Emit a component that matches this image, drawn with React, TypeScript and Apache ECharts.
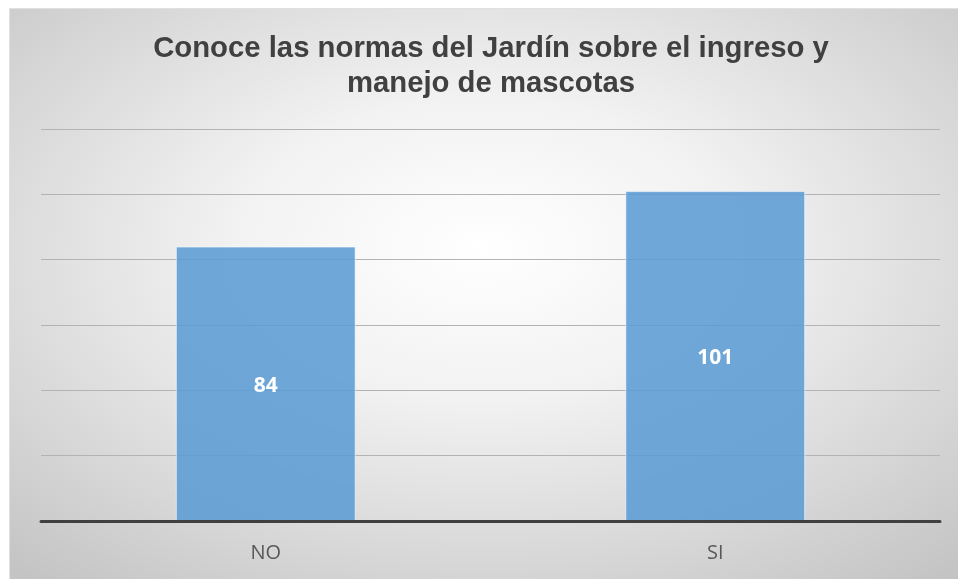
import React, { useEffect, useRef } from "react";
import * as echarts from "echarts";

const categories = ["NO", "SI"];
const values = [84, 101];
const titleLines = ["Conoce las normas del Jardín sobre el ingreso y", "manejo de mascotas"];

export default function App() {
  const ref = useRef<HTMLDivElement>(null);
  useEffect(() => {
    if (!ref.current) return;
    const chart = echarts.init(ref.current, undefined, { renderer: "svg" });
    chart.setOption({
      animation: false,
      backgroundColor: "transparent",
      graphic: [
        {
          type: "text",
          x: 481,
          y: 20,
          style: {
            text: titleLines.join("\n"),
            align: "center",
            verticalAlign: "top",
            font: "bold 29.3px 'Liberation Sans', Arial, sans-serif",
            fill: "#404040",
            lineHeight: 35,
          },
        },
      ],
      grid: { left: 31, right: 18, top: 120, bottom: 58, containLabel: false },
      xAxis: {
        type: "category",
        data: categories,
        axisLine: { show: true, lineStyle: { color: "#404040", width: 3 } },
        axisTick: { show: false },
        axisLabel: {
          color: "#595959",
          fontSize: 20,
          fontFamily: "Open Sans, sans-serif",
          margin: 20,
        },
        z: 5,
      },
      yAxis: {
        type: "value",
        min: 0,
        max: 120,
        interval: 20,
        axisLabel: { show: false },
        axisLine: { show: false },
        axisTick: { show: false },
        splitLine: { lineStyle: { color: "#b3b3b3", width: 1 } },
      },
      series: [
        {
          type: "bar",
          data: values,
          barCategoryGap: "60%",
          itemStyle: {
            color: "rgba(91,155,213,0.87)",
            borderColor: "rgba(255,255,255,0.55)",
            borderWidth: 1,
          },
          label: {
            show: true,
            position: "inside",
            color: "#ffffff",
            fontWeight: "bold",
            fontSize: 21,
            fontFamily: "Open Sans, sans-serif",
          },
        },
      ],
    });
    return () => chart.dispose();
  }, []);
  return (
    <div
      ref={ref}
      style={{
        position: "fixed",
        left: 9,
        top: 8,
        width: 949,
        height: 571,
        background:
          "radial-gradient(ellipse 75% 75% at 50% 42%, #ffffff 0%, #f2f2f2 35%, #d6d6d6 75%, #c4c4c4 100%)",
        borderLeft: "1px solid #e0e0e0",
        borderTop: "1px solid #e0e0e0",
        boxSizing: "border-box",
      }}
    />
  );
}
